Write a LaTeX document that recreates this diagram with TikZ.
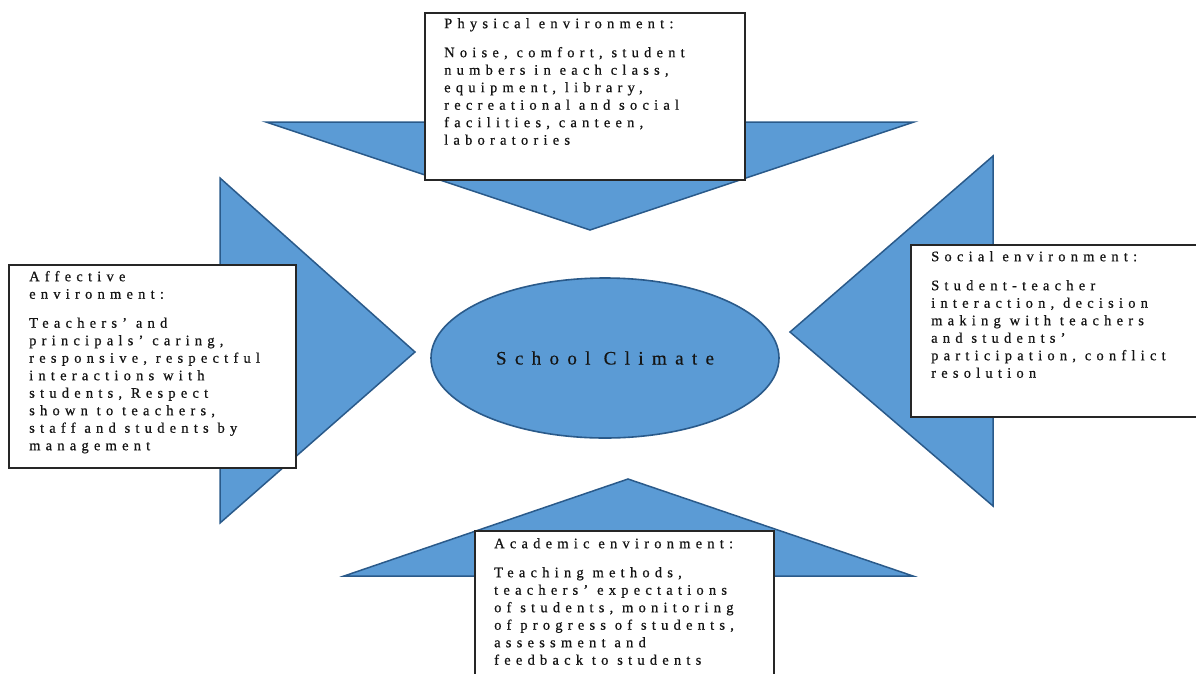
\documentclass[tikz,border=0pt]{standalone}
\usepackage{fontspec}
\setmainfont{Liberation Serif}
\newfontfamily\spacedfont[LetterSpace=36,FakeBold=0.6]{Liberation Serif}
\newfontfamily\hubfont[LetterSpace=44,FakeBold=0.4]{Liberation Serif}
\usetikzlibrary{shapes.geometric}
\definecolor{arrowblue}{HTML}{5B9BD5}
\definecolor{arrowedge}{HTML}{2A5A8A}
\definecolor{txt}{HTML}{141414}
\tikzset{
  wedge/.style={fill=arrowblue, draw=arrowedge, line width=1.5pt, line join=miter},
  infobox/.style={draw=black!85, line width=1.5pt, fill=white, anchor=north west, inner sep=0pt},
  boxtext/.style={anchor=north west, inner sep=0pt, align=left, text=txt,
    font=\spacedfont\fontsize{14.5}{17.5}\selectfont},
  hub/.style={ellipse, fill=arrowblue, draw=arrowedge, line width=1.6pt,
    minimum width=348pt, minimum height=160pt, inner sep=0pt, text=txt,
    font=\hubfont\fontsize{19}{22}\selectfont}
}
\begin{document}
\begin{tikzpicture}[x=1pt,y=-1pt]
\useasboundingbox (0,0) rectangle (1196,673);
% wedge corners
\coordinate (tA) at (266,122);
\coordinate (tB) at (914,122);
\coordinate (tC) at (590,230);
\coordinate (lA) at (220,178);
\coordinate (lB) at (220,523);
\coordinate (lC) at (415,352);
\coordinate (rA) at (993,156);
\coordinate (rB) at (993,506);
\coordinate (rC) at (790,332);
\coordinate (bA) at (344,576);
\coordinate (bB) at (913,576);
\coordinate (bC) at (628,479);
\draw[wedge] (tA) -- (tB) -- (tC) -- cycle;
\draw[wedge] (lA) -- (lC) -- (lB) -- cycle;
\draw[wedge] (rA) -- (rC) -- (rB) -- cycle;
\draw[wedge] (bA) -- (bC) -- (bB) -- cycle;
% centre
\node[hub] (climate) at (605,358) {School Climate};
% boxes
\node[infobox, minimum width=320pt, minimum height=167pt] (physbox) at (424,12) {};
\node[infobox, minimum width=287pt, minimum height=203pt] (affbox) at (8,264) {};
\node[infobox, minimum width=300pt, minimum height=172pt] (socbox) at (910,244) {};
\node[infobox, minimum width=299pt, minimum height=160pt] (acabox) at (474,530) {};
% texts
\node[boxtext] (phystext) at (444,15.75) {\strut Physical environment:\\[11.5pt]
Noise, comfort, student\\
numbers in each class,\\
equipment, library,\\
recreational and social\\
facilities, canteen,\\
laboratories};
\node[boxtext] (afftext) at (29,268.75) {\strut Affective\\
environment:\\[11.5pt]
Teachers’ and\\
principals’ caring,\\
responsive, respectful\\
interactions with\\
students, Respect\\
shown to teachers,\\
staff and students by\\
management};
\node[boxtext] (soctext) at (931,248.75) {\strut Social environment:\\[11.5pt]
Student-teacher\\
interaction, decision\\
making with teachers\\
and students’\\
participation, conflict\\
resolution};
\node[boxtext] (acatext) at (494,535.75) {\strut Academic environment:\\[11.5pt]
Teaching methods,\\
teachers’ expectations\\
of students, monitoring\\
of progress of students,\\
assessment and\\
feedback to students};
\end{tikzpicture}
\end{document}
